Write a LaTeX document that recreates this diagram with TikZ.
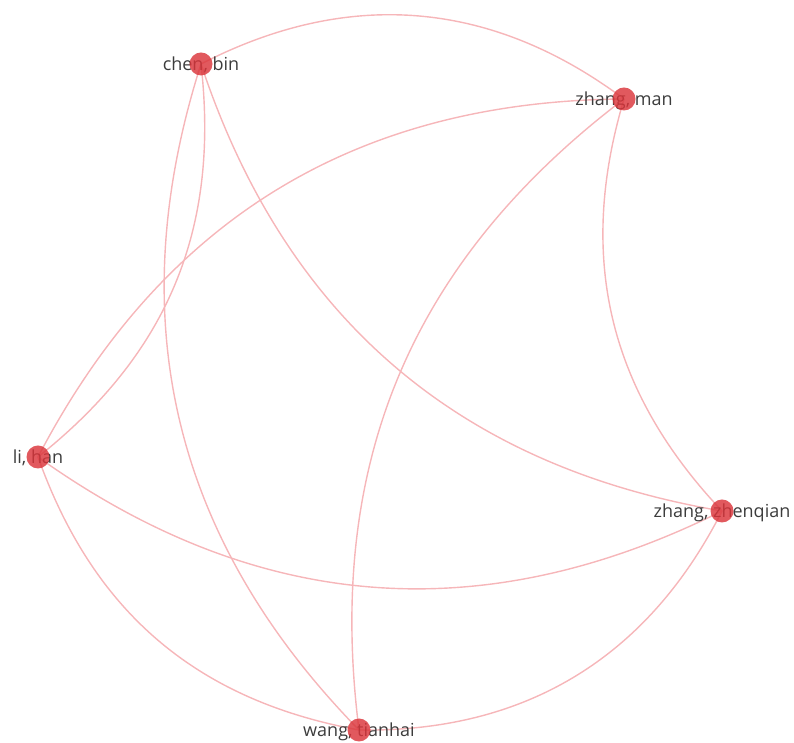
\documentclass[tikz,border=0pt]{standalone}
\usepackage{fontspec}
\setmainfont{Open Sans}
\definecolor{edgec}{RGB}{246,182,185}
\definecolor{nodec}{RGB}{218,52,58}
\definecolor{txtc}{RGB}{60,60,60}
\begin{document}
\begin{tikzpicture}[x=1pt,y=1pt,
  link/.style={draw=edgec, line width=1.4pt},
  dot/.style={circle, fill=nodec, fill opacity=0.82, minimum size=23pt, inner sep=0pt},
  lbl/.style={text=txtc, font=\fontsize{18}{20}\selectfont, inner sep=0pt, anchor=base}]
\useasboundingbox (0,0) rectangle (794,743);
% node positions
\coordinate (pc) at (201,679);
\coordinate (pm) at (624,644);
\coordinate (pl) at (38,286);
\coordinate (pz) at (722,232);
\coordinate (pw) at (359,13);
% edges
\draw[link] (pc) to[bend left=32] (pm);
\draw[link] (pc) to[bend left=29] (pl);
\draw[link] (pc) to[bend right=31] (pw);
\draw[link] (pc) to[bend right=31] (pz);
\draw[link] (pm) to[bend right=31] (pl);
\draw[link] (pm) to[bend right=30] (pw);
\draw[link] (pm) to[bend right=30] (pz);
\draw[link] (pl) to[bend right=31] (pz);
\draw[link] (pl) to[bend right=30] (pw);
\draw[link] (pw) to[bend right=32] (pz);
% labels
\node[lbl] (lc) at ([yshift=-6.5pt]pc) {chen, bin};
\node[lbl] (lm) at ([yshift=-6.5pt]pm) {zhang, man};
\node[lbl] (ll) at ([yshift=-6.5pt]pl) {li, han};
\node[lbl] (lz) at ([yshift=-6.5pt]pz) {zhang, zhenqian};
\node[lbl] (lw) at ([yshift=-6.5pt]pw) {wang, tianhai};
% dots
\node[dot] (c) at (pc) {};
\node[dot] (m) at (pm) {};
\node[dot] (l) at (pl) {};
\node[dot] (z) at (pz) {};
\node[dot] (w) at (pw) {};
\end{tikzpicture}
\end{document}
